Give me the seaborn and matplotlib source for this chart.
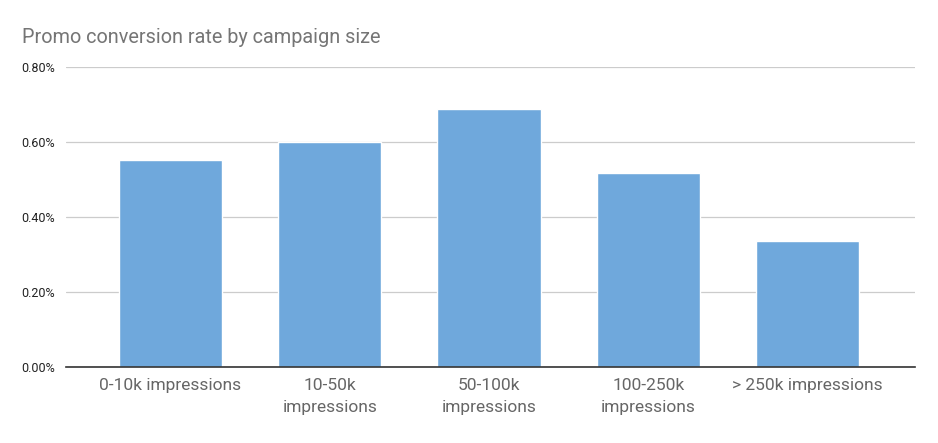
import numpy as np
import pandas as pd
import matplotlib
matplotlib.use("Agg")
import matplotlib.pyplot as plt
import seaborn as sns
from matplotlib.ticker import FuncFormatter

# campaign size buckets and conversion rate (%)
categories = ["0-10k impressions", "10-50k\nimpressions", "50-100k\nimpressions",
              "100-250k\nimpressions", "> 250k impressions"]
conversion = [0.552, 0.600, 0.688, 0.517, 0.336]
y_ticks = [0.0, 0.2, 0.4, 0.6, 0.8]

df = pd.DataFrame({"size": categories, "rate": conversion})

sns.set_theme(style="white")
plt.rcParams["font.family"] = ["Roboto", "DejaVu Sans"]

fig = plt.figure(figsize=(9.38, 4.43), dpi=100)
ax = fig.add_axes([0.0704, 0.1716, 0.9051, 0.6772])

sns.barplot(data=df, x="size", y="rate", color="#6fa8dc", width=0.647,
            saturation=1, ax=ax, zorder=3)

ax.set_ylim(0, 0.8)
ax.set_xlim(-0.656, 4.675)
ax.set_yticks(y_ticks)
ax.yaxis.set_major_formatter(FuncFormatter(lambda v, p: f"{v:.2f}%"))
ax.grid(axis="y", color="#cccccc", linewidth=0.9, zorder=0)
ax.set_axisbelow(True)
for s in ["top", "right", "left"]:
    ax.spines[s].set_visible(False)
ax.spines["bottom"].set_color("#333333")
ax.spines["bottom"].set_linewidth(1.2)
ax.spines["bottom"].set_zorder(4)
ax.tick_params(axis="y", labelsize=9, labelcolor="#222222", length=0, pad=8)
ax.tick_params(axis="x", labelsize=12.5, labelcolor="#666666", length=0, pad=8)
for lbl in ax.get_xticklabels():
    lbl.set_linespacing(1.55)
ax.set_xlabel("")
ax.set_ylabel("")

fig.text(0.0235, 0.915, "Promo conversion rate by campaign size", fontsize=14.3,
         color="#757575", ha="left", va="center")

fig.savefig("out.png", dpi=100)
